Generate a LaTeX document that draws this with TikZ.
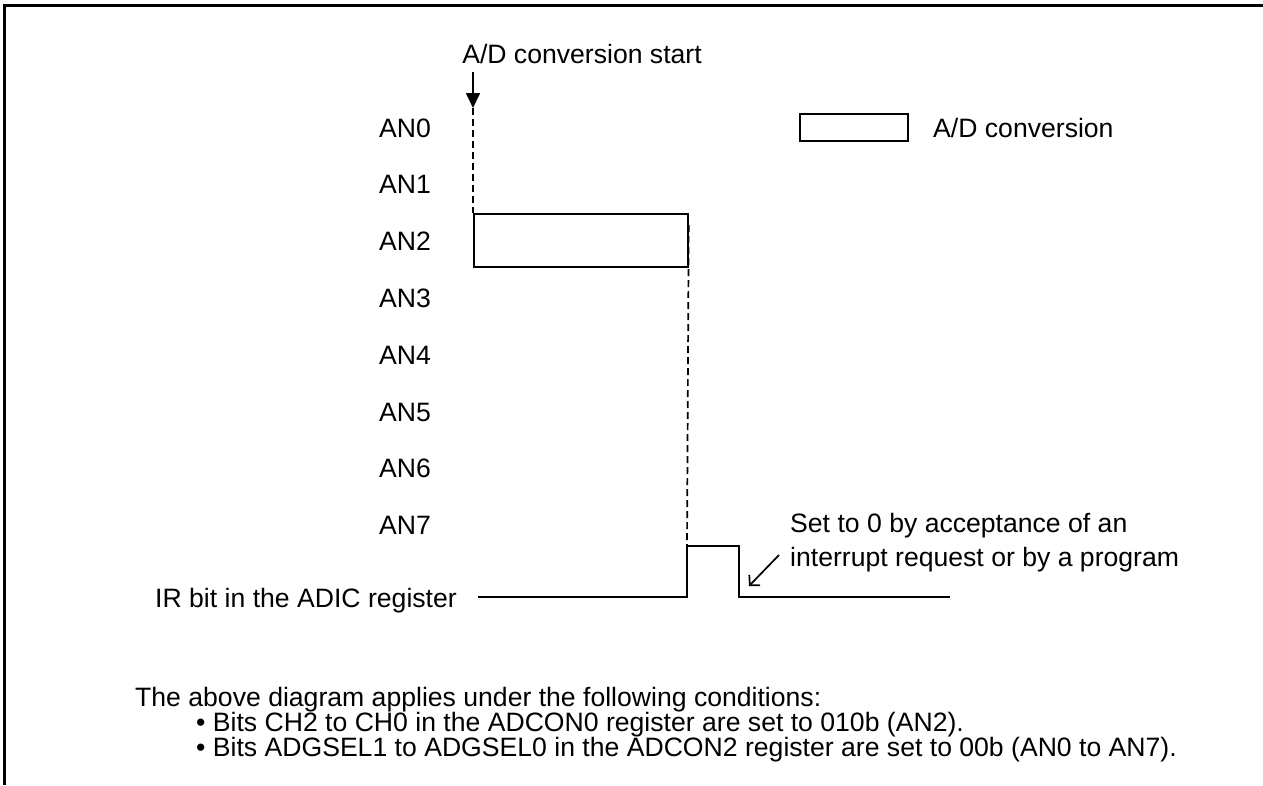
\documentclass[tikz,border=0pt]{standalone}
\usepackage{fontspec}
\setmainfont{Liberation Sans}
\usetikzlibrary{arrows.meta}
\begin{document}
\begin{tikzpicture}[x=1pt,y=-1pt,
  txt/.style={inner sep=0pt, font=\fontsize{26.6}{30}\selectfont},
  sig/.style={line width=1.7pt},
  dsh/.style={line width=1.7pt, dash pattern=on 7pt off 4pt},
  frame/.style={line width=3pt},
  boxed/.style={draw, line width=1.7pt, inner sep=0pt, anchor=north west}]
\useasboundingbox (0,0) rectangle (1263,785);
% frame
\draw[frame] (4.5,785) -- (4.5,5.5) -- (1263,5.5);
% start label and arrow
\node[txt, anchor=base] (start) at (582,63) {A/D conversion start};
\coordinate (arrtop) at (473,72);
\coordinate (arrtip) at (473,108);
\draw[sig, -{Triangle[length=15pt,width=14pt]}] (arrtop) -- (arrtip);
% channel labels
\foreach \i in {0,...,7} {
  \node[txt, anchor=base east] (an\i) at (431,{137+56.8*\i}) {AN\i};
}
% conversion box on AN2
\node[boxed, minimum width=214pt, minimum height=53pt] (conv) at (473,213) {};
\draw[dsh] (arrtip) -- (conv.north west);
% IR signal
\node[txt, anchor=base east] (ir) at (457,607) {IR bit in the ADIC register};
\coordinate (irs) at (478,597);
\coordinate (p1) at (687,597);
\coordinate (p2) at (687,546);
\coordinate (p3) at (739,546);
\coordinate (p4) at (739,597);
\coordinate (ire) at (950,597);
\draw[sig] (irs) -- (p1) -- (p2) -- (p3) -- (p4) -- (ire);
\draw[dsh] ([yshift=-12pt]conv.north east) -- (p2);
% legend
\node[boxed, minimum width=108pt, minimum height=27pt] (leg) at (799,113) {};
\node[txt, anchor=base west] (legt) at (933,137) {A/D conversion};
% annotation
\node[txt, anchor=base west] (note1) at (790,532) {Set to 0 by acceptance of an};
\node[txt, anchor=base west] (note2) at (790,566) {interrupt request or by a program};
\coordinate (na) at (779,555);
\coordinate (nb) at (749,586);
\draw[sig, -{Straight Barb[length=7pt,width=15pt]}] (na) -- (nb);
% conditions
\node[txt, anchor=base west] (c0) at (135,706) {The above diagram applies under the following conditions:};
\node[txt, anchor=base west] (c1) at (196,731) {• Bits CH2 to CH0 in the ADCON0 register are set to 010b (AN2).};
\node[txt, anchor=base west] (c2) at (196,756) {• Bits ADGSEL1 to ADGSEL0 in the ADCON2 register are set to 00b (AN0 to AN7).};
\end{tikzpicture}
\end{document}
